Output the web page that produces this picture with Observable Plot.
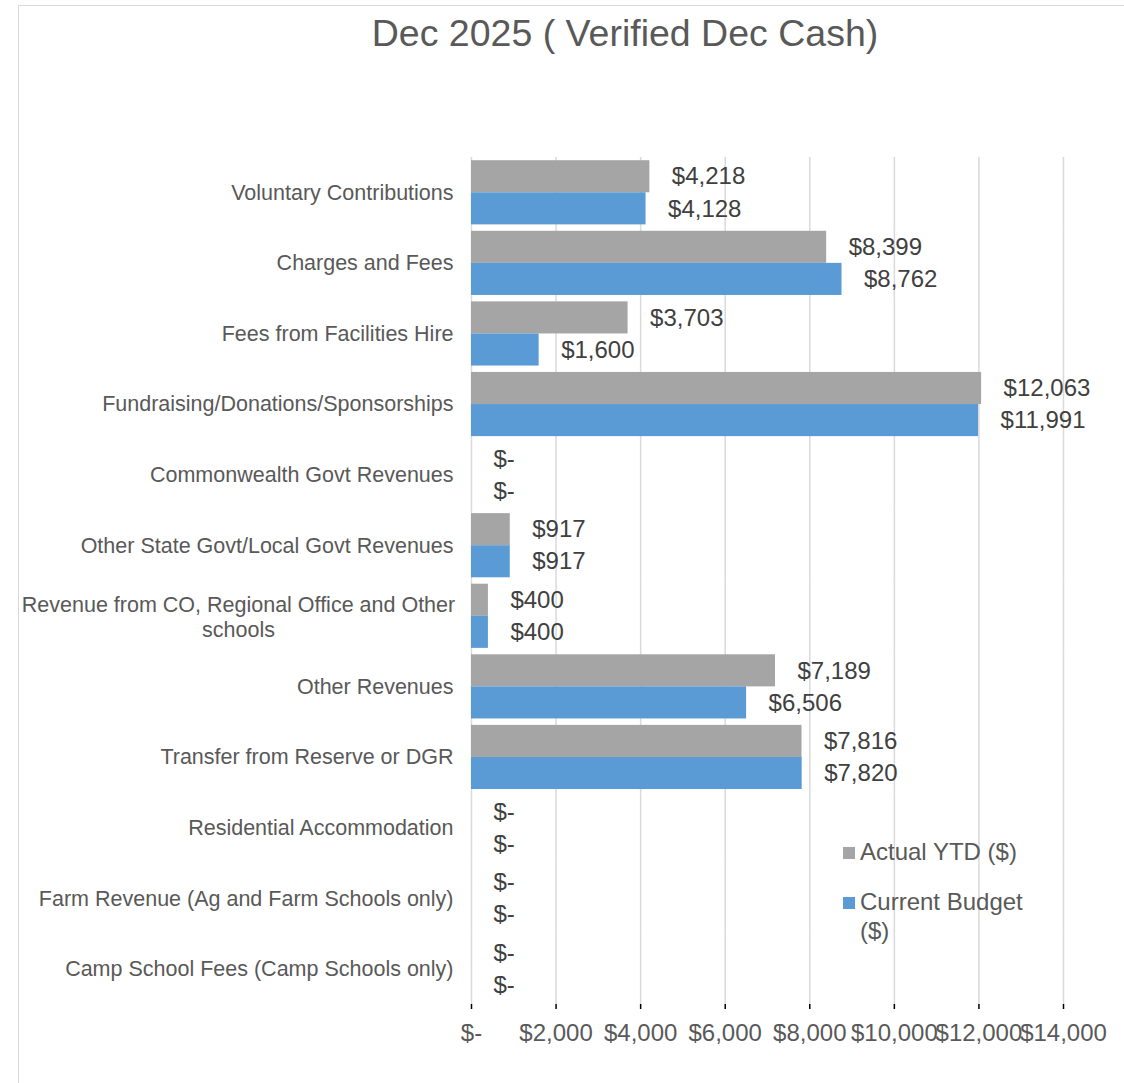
<!DOCTYPE html>
<html>
<head>
<meta charset="utf-8">
<script src="https://cdn.jsdelivr.net/npm/d3@7"></script>
<script src="https://cdn.jsdelivr.net/npm/@observablehq/plot@0.6"></script>
<style>
  html, body { margin: 0; padding: 0; background: #fff; overflow: hidden; }
  body { width: 1124px; height: 1083px; position: relative; font-family: "Liberation Sans", Arial, sans-serif; }
  #frame { position: absolute; left: 18px; top: 5px; width: 1300px; height: 1300px; border: 1.5px solid #d9d9d9; box-sizing: border-box; }
  #title { position: absolute; left: 0; width: 1250px; top: 12px; text-align: center; font-size: 37.5px; color: #595959; }
  #chart { position: absolute; left: 0; top: 0; }
  #legend { position: absolute; left: 843px; top: 837px; font-size: 24px; color: #595959; line-height: 29px; }
  .item { position: relative; padding-left: 17px; margin-bottom: 21px; }
  .sw { position: absolute; left: 0; top: 10px; width: 12px; height: 12px; }
  svg [aria-label="x-axis tick"] { stroke: #d9d9d9; stroke-width: 1.5; }
  svg [aria-label="x-axis tick label"] { fill: #595959; }
</style>
</head>
<body>
<div id="frame"></div>
<div id="chart"></div>
<div id="title">Dec 2025 ( Verified Dec Cash)</div>
<div id="legend"></div>
<script>
const categories = [
  "Voluntary Contributions",
  "Charges and Fees",
  "Fees from Facilities Hire",
  "Fundraising/Donations/Sponsorships",
  "Commonwealth Govt Revenues",
  "Other State Govt/Local Govt Revenues",
  "Revenue from CO, Regional Office and Other schools",
  "Other Revenues",
  "Transfer from Reserve or DGR",
  "Residential Accommodation",
  "Farm Revenue (Ag and Farm Schools only)",
  "Camp School Fees (Camp Schools only)"
];
const actualYTD = [4218, 8399, 3703, 12063, 0, 917, 400, 7189, 7816, 0, 0, 0];
const currentBudget = [4128, 8762, 1600, 11991, 0, 917, 400, 6506, 7820, 0, 0, 0];
const seriesNames = ["Actual YTD ($)", "Current Budget ($)"];
const seriesColors = ["#a5a5a5", "#5b9bd5"];
const xTicks = [0, 2000, 4000, 6000, 8000, 10000, 12000, 14000];
const wrappedLabel = "Revenue from CO, Regional Office and Other schools";
const wrappedText = "Revenue from CO, Regional Office and Other\nschools";

const rows = categories.flatMap((c, i) => [
  {cat: c, series: seriesNames[0], value: actualYTD[i]},
  {cat: c, series: seriesNames[1], value: currentBudget[i]}
]);
const fmt = v => v === 0 ? "$-" : "$" + d3.format(",")(v);

const chart = Plot.plot({
  width: 1124,
  height: 1083,
  marginLeft: 471,
  marginRight: 61,
  marginTop: 157,
  marginBottom: 79,
  style: {fontFamily: "Liberation Sans, Arial, sans-serif", fontSize: "24px", background: "transparent", overflow: "visible"},
  x: {domain: [0, 14000], ticks: xTicks, tickFormat: fmt, label: null, tickSize: 5, tickPadding: 14},
  fy: {domain: categories, padding: 0, round: false, axis: null, label: null},
  y: {domain: seriesNames, paddingInner: 0, paddingOuter: 0.1, round: false, axis: null},
  color: {domain: seriesNames, range: seriesColors},
  marks: [
    Plot.ruleX(xTicks, {stroke: "#d9d9d9", strokeWidth: 1.5}),
    Plot.barX(rows, {fy: "cat", y: "series", x: "value", fill: "series"}),
    Plot.text(rows, {fy: "cat", y: "series", x: "value", text: d => fmt(d.value), dx: 22, textAnchor: "start", fontSize: 24, fill: "#404040"}),
    Plot.text(categories.filter(c => c !== wrappedLabel), {fy: d => d, frameAnchor: "left", text: d => d, dx: -18, textAnchor: "end", fontSize: 21.5, fill: "#595959"}),
    Plot.text([wrappedLabel], {fy: d => d, frameAnchor: "left", text: () => wrappedText, dx: -233, textAnchor: "middle", fontSize: 21.5, lineHeight: 1.17, fill: "#595959"})
  ]
});
document.getElementById("chart").appendChild(chart);

const legend = document.getElementById("legend");
legend.innerHTML = seriesNames.map((s, i) =>
  `<div class="item"><span class="sw" style="background:${seriesColors[i]}"></span>${i === 1 ? "Current Budget<br>($)" : s}</div>`
).join("");
</script>
</body>
</html>
